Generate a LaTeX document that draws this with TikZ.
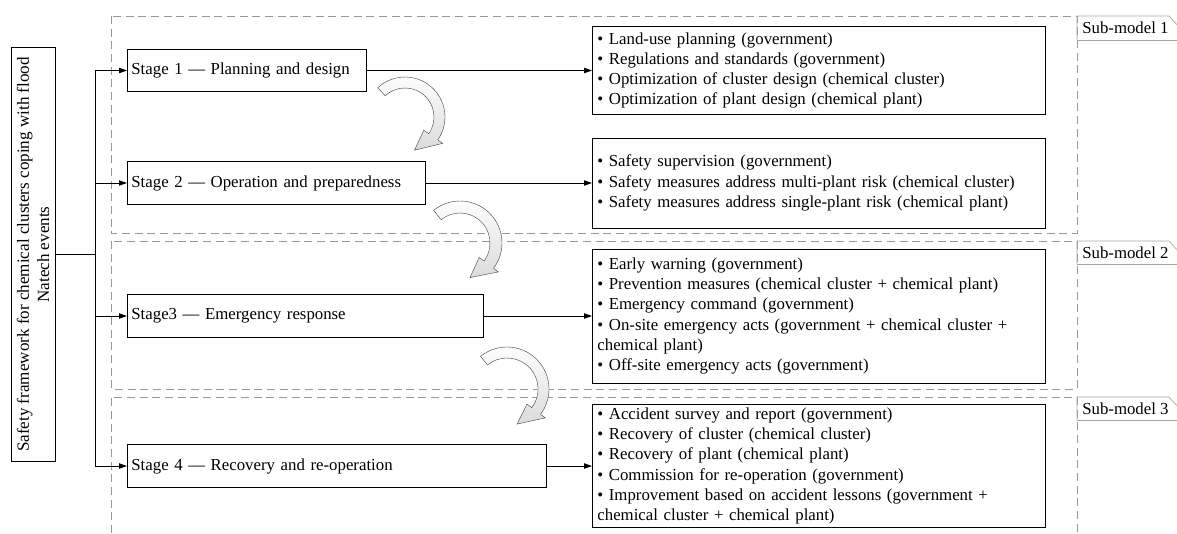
\documentclass[tikz,border=0pt]{standalone}
\usepackage{fontspec}
\setmainfont{Liberation Serif}
\usepackage{tikz}
\usetikzlibrary{arrows.meta}

\begin{document}
\begin{tikzpicture}[
            x=0.75pt, y=0.75pt,
            font=\fontsize{12.6}{15.2}\selectfont,
            stage_box/.style={
                draw, rectangle, anchor=west, line width=0.6pt,
                minimum height=32pt, inner xsep=3pt, align=left
            },
            list_box/.style={
                draw, rectangle, anchor=west, line width=0.6pt,
                text width=332pt, inner xsep=3.75pt, inner ysep=0pt, align=left
            },
            sub_frame/.style={draw=gray!80, line width=0.5pt, dash pattern=on 6pt off 3.5pt},
            sub_tab/.style={draw=gray!70, line width=0.5pt},
            seta/.style={-{Triangle[length=6pt, width=4pt]}, line width=0.7pt},
            bend_arrow/.style={top color=white, bottom color=gray!28, draw=gray!50!black, line width=0.3pt}
        ]
            \useasboundingbox (0,0) rectangle (1177,-533);

            % Sub-model frames (dashed)
            \draw[sub_frame] (111,-16) rectangle (1077,-233);
            \draw[sub_frame] (111,-241) rectangle (1077,-389);
            \draw[sub_frame] (111,-533) -- (111,-397) -- (1077,-397) -- (1077,-533);

            % Sub-model tabs
            \node[anchor=west, inner sep=0pt] (tab1) at (1082,-28) {Sub-model 1};
            \draw[sub_tab] (1077,-40) -- (1077,-16) -- (1169,-16) -- (1179,-27);
            \draw[sub_tab] (1077,-40) -- (1177,-40);

            \node[anchor=west, inner sep=0pt] (tab2) at (1082,-253) {Sub-model 2};
            \draw[sub_tab] (1077,-264) -- (1077,-241) -- (1169,-241) -- (1179,-252);
            \draw[sub_tab] (1077,-264) -- (1177,-264);

            \node[anchor=west, inner sep=0pt] (tab3) at (1082,-409) {Sub-model 3};
            \draw[sub_tab] (1077,-420) -- (1077,-397) -- (1169,-397) -- (1179,-408);
            \draw[sub_tab] (1077,-420) -- (1177,-420);

            % Framework (rotated title box)
            \node[draw, line width=0.6pt, rotate=90, minimum width=310pt, minimum height=33pt,
                  inner sep=1pt, align=center, font=\fontsize{12.8}{15.2}\selectfont] (frame) at (33,-254.5)
                {Safety framework for chemical clusters coping with flood\\Natech events};
            \coordinate (trunk) at (95,-254.5);

            % --- Stages ---
            \node[stage_box, text width=173pt] (s1) at (127,-70.5) {Stage 1 --- Planning and design};
            \node[stage_box, text width=217.5pt] (s2) at (127,-183) {Stage 2 --- Operation and preparedness};
            \node[stage_box, text width=261pt] (s3) at (127,-316) {Stage3 --- Emergency response};
            \node[stage_box, text width=308pt] (s4) at (127,-466) {Stage 4 --- Recovery and re-operation};

            % --- Measures ---
            \node[list_box, minimum height=66pt] (l1) at (592,-70.5) {%
                \textbullet\ Land-use planning (government)\\
                \textbullet\ Regulations and standards (government)\\
                \textbullet\ Optimization of cluster design (chemical cluster)\\
                \textbullet\ Optimization of plant design (chemical plant)};
            \node[list_box, minimum height=67.5pt] (l2) at (592,-183) {%
                \textbullet\ Safety supervision (government)\\
                \textbullet\ Safety measures address multi-plant risk (chemical cluster)\\
                \textbullet\ Safety measures address single-plant risk (chemical plant)};
            \node[list_box, minimum height=100.5pt] (l3) at (592,-316) {%
                \textbullet\ Early warning (government)\\
                \textbullet\ Prevention measures (chemical cluster + chemical plant)\\
                \textbullet\ Emergency command (government)\\
                \textbullet\ On-site emergency acts (government + chemical cluster +\\
                chemical plant)\\
                \textbullet\ Off-site emergency acts (government)};
            \node[list_box, minimum height=92.25pt] (l4) at (592,-466) {%
                \textbullet\ Accident survey and report (government)\\
                \textbullet\ Recovery of cluster (chemical cluster)\\
                \textbullet\ Recovery of plant (chemical plant)\\
                \textbullet\ Commission for re-operation (government)\\
                \textbullet\ Improvement based on accident lessons (government +\\
                chemical cluster + chemical plant)};

            % Connectors
            \draw[line width=0.7pt] (frame.south) -- (trunk);
            \draw[line width=0.7pt] (trunk |- s1.west) -- (trunk |- s4.west);
            \foreach \n in {1,2,3,4} {
                \draw[seta] (trunk |- s\n.west) -- (s\n.west);
                \draw[seta] (s\n.east) -- (l\n.west);
            }

            % Curved transition arrows
            \foreach \cx/\cy/\R/\r/\a/\b/\t in {405/-117/40/29/133/-35/-74,
                                                460/-243/42/30/129/-37/-74,
                                                507/-389/42/31/129/-37/-74} {
                \shadedraw[bend_arrow] ([shift={(\a:\R)}]\cx,\cy)
                    arc[start angle=\a, end angle=\b, radius=\R]
                    -- ([shift={(\b:{\R+6})}]\cx,\cy)
                    -- ([shift={(\t:{(\R+\r)/2})}]\cx,\cy)
                    -- ([shift={(\b:{\r-6})}]\cx,\cy)
                    -- ([shift={(\b:\r)}]\cx,\cy)
                    arc[start angle=\b, end angle=\a, radius=\r] -- cycle;
            }

        \end{tikzpicture}
\end{document}
